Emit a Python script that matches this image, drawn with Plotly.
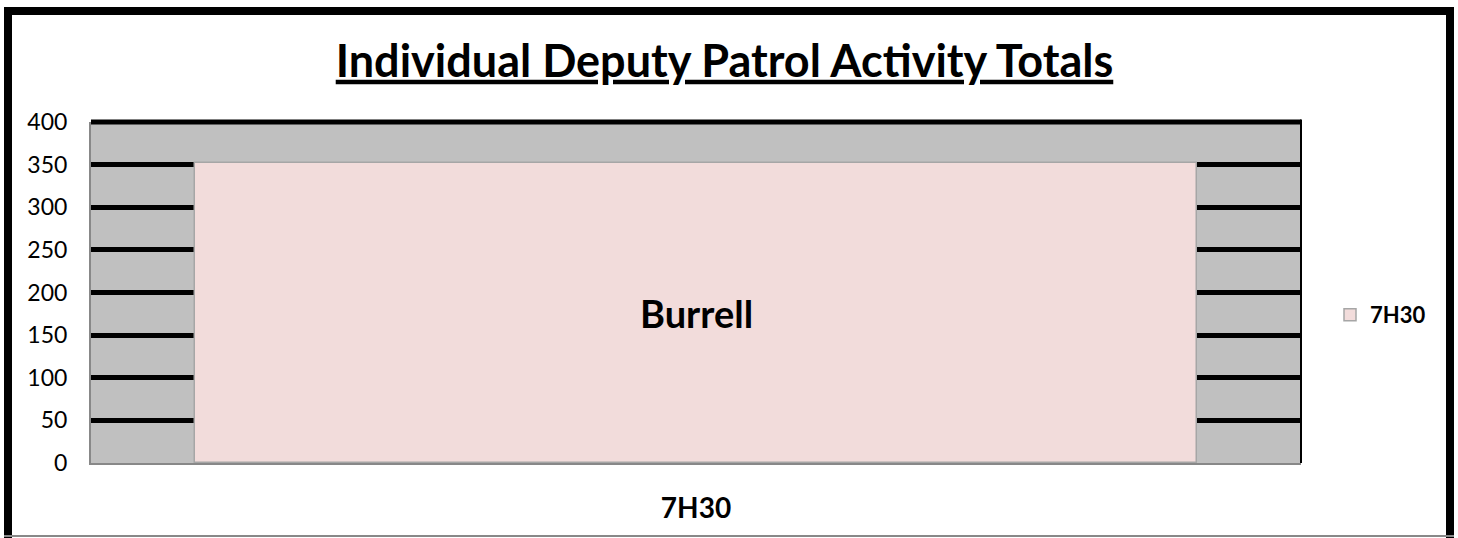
import plotly.graph_objects as go

categories = ["7H30"]
values = [352]
series_name = "7H30"
bar_label = "Burrell"
title_text = "Individual Deputy Patrol Activity Totals"
y_ticks = [0, 50, 100, 150, 200, 250, 300, 350, 400]

W, H = 1458, 538
L, R, T, B = 91, 157, 122, 75

def px_x(px):
    return (px - L) / (W - L - R)

def px_y(py):
    return (H - B - py) / (H - T - B)

FONT = "Lato"

fig = go.Figure()
fig.add_trace(go.Bar(
    x=categories, y=values, name=series_name,
    width=0.828,
    marker=dict(color="#F2DCDB", line=dict(color="#A6A6A6", width=1.5)),
    showlegend=True,
))

fig.add_annotation(x=categories[0], y=values[0] / 2, xref="x", yref="y", text="<b>%s</b>" % bar_label,
                   showarrow=False, yanchor="middle", font=dict(family=FONT, size=38, color="black"))

shapes = [
    dict(type="line", xref="paper", yref="paper", x0=px_x(8), x1=px_x(8), y0=px_y(7), y1=px_y(540),
         line=dict(color="black", width=8)),
    dict(type="line", xref="paper", yref="paper", x0=px_x(4), x1=px_x(1454), y0=px_y(11), y1=px_y(11),
         line=dict(color="black", width=8)),
    dict(type="line", xref="paper", yref="paper", x0=px_x(1450), x1=px_x(1450), y0=px_y(7), y1=px_y(540),
         line=dict(color="black", width=8)),
    dict(type="line", xref="paper", yref="paper", x0=px_x(4), x1=px_x(1454), y0=px_y(536), y1=px_y(536),
         line=dict(color="#888888", width=2)),
    dict(type="line", xref="paper", yref="paper", x0=0, x1=1, y0=1, y1=1,
         line=dict(color="black", width=5)),
    dict(type="line", xref="paper", yref="paper", x0=1, x1=1, y0=0, y1=1.007,
         line=dict(color="black", width=2)),
]

fig.update_layout(
    width=W, height=H,
    margin=dict(l=L, r=R, t=T, b=B, autoexpand=False),
    paper_bgcolor="white",
    plot_bgcolor="#C0C0C0",
    title=dict(text="<b><u>%s</u></b>" % title_text, x=(333 + 1116) / 2 / W, xref="container", xanchor="center",
               y=1 - 61 / H, yref="container", yanchor="middle",
               font=dict(family=FONT, size=45, color="black")),
    shapes=shapes,
    bargap=0,
    legend=dict(x=px_x(1330), y=px_y(315), xanchor="left", yanchor="middle",
                font=dict(family=FONT, size=22, color="black", weight="bold"),
                bgcolor="rgba(0,0,0,0)", itemwidth=30),
    font=dict(family=FONT, color="black"),
)
fig.update_xaxes(
    range=[-0.5, 0.5], showgrid=False, showline=True, linecolor="#888888", linewidth=2,
    tickfont=dict(family=FONT, size=28, color="black"),
    tickvals=categories, ticktext=["<b>%s</b>" % c for c in categories],
    ticklabelstandoff=19, ticks="",
)
fig.update_yaxes(
    range=[0, 400], tickvals=y_ticks, showgrid=True, gridcolor="black", gridwidth=5,
    zeroline=False, showline=True, linecolor="#888888", linewidth=2,
    tickfont=dict(family=FONT, size=23, color="black"), ticks="", ticklabelstandoff=17,
)

fig.write_html("out.html", post_script="document.body.style.margin='0';",
               config={"displayModeBar": False})
